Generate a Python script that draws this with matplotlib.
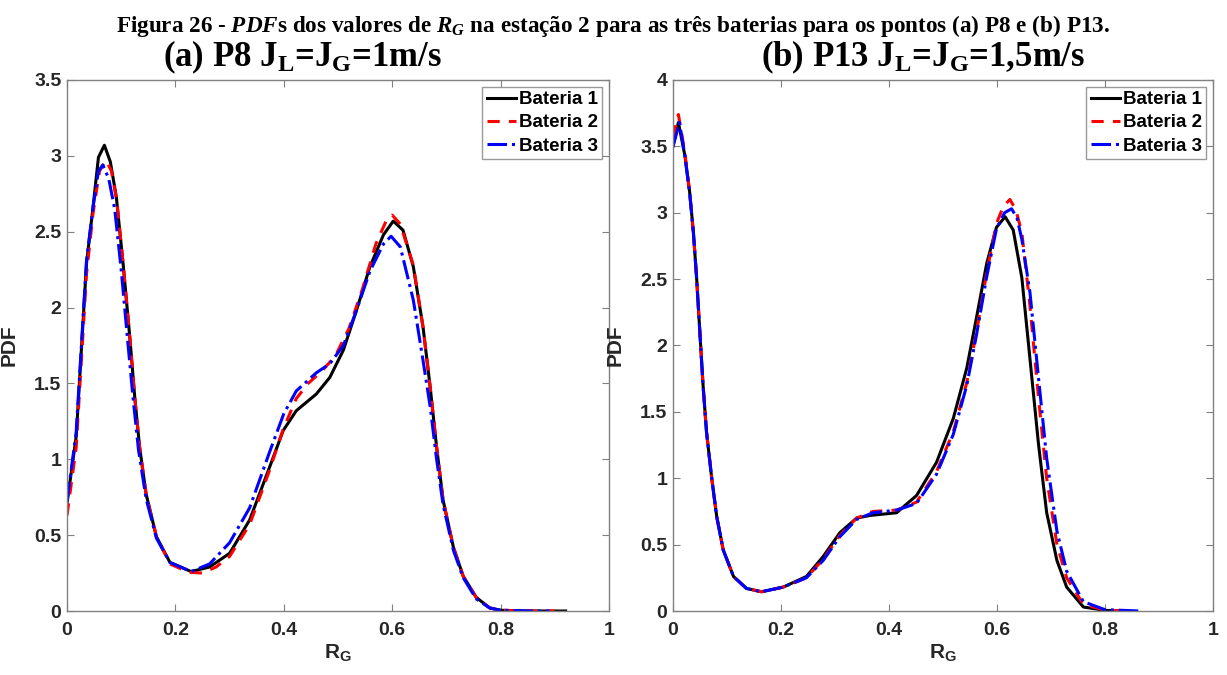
import matplotlib
matplotlib.use("Agg")
import matplotlib.pyplot as plt
from matplotlib.ticker import FormatStrFormatter

plt.rcParams['font.family'] = ['Liberation Sans', 'DejaVu Sans']
plt.rcParams['mathtext.fontset'] = 'custom'
plt.rcParams['mathtext.rm'] = 'Liberation Serif:bold'
plt.rcParams['mathtext.bf'] = 'Liberation Serif:bold'
plt.rcParams['mathtext.it'] = 'Liberation Serif:italic:bold'

# (a) P8  JL=JG=1m/s
a_x1 = [0.0, 0.017, 0.036, 0.048, 0.058, 0.069, 0.080, 0.091, 0.1035, 0.116, 0.125, 0.134, 0.146,
        0.165, 0.190, 0.229, 0.263, 0.300, 0.337, 0.374, 0.399, 0.423, 0.460, 0.485, 0.510, 0.534,
        0.559, 0.584, 0.602, 0.620, 0.639, 0.657, 0.670, 0.682, 0.694, 0.713, 0.731, 0.755, 0.78,
        0.80, 0.85, 0.92]
a_y1 = [0.71, 1.15, 2.29, 2.66, 2.99, 3.07, 2.96, 2.73, 2.29, 1.80, 1.41, 1.08, 0.77,
        0.49, 0.32, 0.26, 0.29, 0.38, 0.60, 0.95, 1.19, 1.32, 1.43, 1.54, 1.72, 1.98,
        2.27, 2.48, 2.57, 2.51, 2.27, 1.87, 1.48, 1.08, 0.73, 0.42, 0.23, 0.09, 0.02,
        0.005, 0.0, 0.0]
a_x2 = [0.0, 0.017, 0.036, 0.048, 0.060, 0.072, 0.082, 0.092, 0.1035, 0.116, 0.125, 0.134, 0.146,
        0.165, 0.190, 0.225, 0.250, 0.275, 0.300, 0.337, 0.374, 0.399, 0.423, 0.445, 0.470, 0.495,
        0.520, 0.545, 0.570, 0.590, 0.600, 0.615, 0.639, 0.657, 0.670, 0.682, 0.694, 0.713, 0.731,
        0.755, 0.78, 0.80, 0.85, 0.90]
a_y2 = [0.63, 1.08, 2.22, 2.62, 2.90, 2.97, 2.90, 2.70, 2.29, 1.80, 1.41, 1.08, 0.77,
        0.49, 0.31, 0.255, 0.25, 0.29, 0.36, 0.57, 0.93, 1.20, 1.40, 1.50, 1.58, 1.68,
        1.86, 2.12, 2.42, 2.58, 2.61, 2.55, 2.28, 1.87, 1.48, 1.08, 0.73, 0.42, 0.23,
        0.09, 0.02, 0.005, 0.0, 0.0]
a_x3 = [0.0, 0.017, 0.036, 0.048, 0.058, 0.066, 0.077, 0.088, 0.100, 0.112, 0.122, 0.132, 0.146,
        0.165, 0.190, 0.229, 0.263, 0.300, 0.337, 0.374, 0.400, 0.423, 0.460, 0.485, 0.510, 0.534,
        0.559, 0.584, 0.598, 0.615, 0.639, 0.657, 0.670, 0.682, 0.694, 0.713, 0.731, 0.755, 0.78,
        0.80, 0.85, 0.89]
a_y3 = [0.72, 1.18, 2.31, 2.66, 2.90, 2.94, 2.85, 2.65, 2.25, 1.78, 1.40, 1.06, 0.74,
        0.48, 0.32, 0.26, 0.31, 0.45, 0.68, 1.05, 1.30, 1.45, 1.57, 1.63, 1.75, 1.98,
        2.24, 2.42, 2.47, 2.40, 2.05, 1.65, 1.35, 1.00, 0.70, 0.40, 0.22, 0.08, 0.02,
        0.005, 0.0, 0.0]

# (b) P13  JL=JG=1,5m/s
b_x1 = [0.0, 0.010, 0.022, 0.031, 0.038, 0.044, 0.050, 0.056, 0.062, 0.072, 0.081, 0.093, 0.112,
        0.136, 0.164, 0.204, 0.247, 0.278, 0.309, 0.340, 0.365, 0.414, 0.451, 0.488, 0.519,
        0.544, 0.562, 0.581, 0.599, 0.615, 0.630, 0.646, 0.661, 0.677, 0.692, 0.711, 0.729,
        0.760, 0.80, 0.83]
b_y1 = [3.50, 3.68, 3.43, 3.15, 2.84, 2.49, 2.08, 1.68, 1.35, 0.99, 0.71, 0.46, 0.26,
        0.17, 0.145, 0.18, 0.26, 0.41, 0.59, 0.70, 0.72, 0.74, 0.87, 1.12, 1.45,
        1.83, 2.21, 2.62, 2.89, 2.97, 2.87, 2.51, 1.90, 1.25, 0.74, 0.38, 0.18,
        0.03, 0.005, 0.0]
b_x2 = [0.0, 0.010, 0.022, 0.031, 0.038, 0.044, 0.050, 0.056, 0.062, 0.072, 0.081, 0.093, 0.112,
        0.136, 0.164, 0.204, 0.247, 0.278, 0.309, 0.340, 0.370, 0.414, 0.451, 0.488, 0.519,
        0.544, 0.562, 0.581, 0.599, 0.612, 0.624, 0.635, 0.646, 0.661, 0.677, 0.692, 0.711,
        0.729, 0.760, 0.80, 0.85]
b_y2 = [3.57, 3.74, 3.45, 3.15, 2.84, 2.49, 2.08, 1.68, 1.35, 0.99, 0.71, 0.46, 0.26,
        0.17, 0.145, 0.18, 0.25, 0.39, 0.57, 0.70, 0.75, 0.76, 0.82, 1.05, 1.35,
        1.72, 2.10, 2.55, 2.92, 3.05, 3.10, 3.02, 2.85, 2.30, 1.60, 1.00, 0.50,
        0.25, 0.05, 0.006, 0.0]
b_x3 = [0.0, 0.012, 0.022, 0.031, 0.038, 0.044, 0.050, 0.056, 0.062, 0.072, 0.081, 0.093, 0.112,
        0.136, 0.164, 0.204, 0.247, 0.278, 0.309, 0.340, 0.370, 0.414, 0.451, 0.488, 0.519,
        0.544, 0.562, 0.581, 0.599, 0.614, 0.627, 0.637, 0.646, 0.661, 0.677, 0.692, 0.711,
        0.729, 0.760, 0.80, 0.865]
b_y3 = [3.50, 3.68, 3.43, 3.14, 2.84, 2.49, 2.08, 1.68, 1.35, 0.99, 0.71, 0.46, 0.26,
        0.17, 0.145, 0.18, 0.25, 0.38, 0.56, 0.69, 0.74, 0.76, 0.81, 1.03, 1.33,
        1.70, 2.08, 2.52, 2.88, 3.00, 3.03, 2.96, 2.80, 2.40, 1.75, 1.15, 0.60,
        0.30, 0.07, 0.01, 0.0]

labels = ['Bateria 1', 'Bateria 2', 'Bateria 3']
colors = ['black', 'red', 'blue']
styles = ['-', (0, (4, 3)), '-.']

titles = [r'(a) P8 J$_\mathregular{L}$=J$_\mathregular{G}$=1m/s',
          r'(b) P13 J$_\mathregular{L}$=J$_\mathregular{G}$=1,5m/s']
title_x = [0.434, 0.464]
suptitle = (r'Figura 26 - $\mathit{PDF}$s dos valores de $\mathit{R_G}$ na estação 2 '
            'para as três baterias para os pontos (a) P8 e (b) P13.')

fig = plt.figure(figsize=(12.27, 6.75), dpi=100)
ax1 = fig.add_axes([0.0546, 0.0948, 0.4417, 0.7867])
ax2 = fig.add_axes([0.5485, 0.0948, 0.4401, 0.7867])

data = [[(a_x1, a_y1), (a_x2, a_y2), (a_x3, a_y3)],
        [(b_x1, b_y1), (b_x2, b_y2), (b_x3, b_y3)]]
ymaxs = [3.5, 4]

for ax, series, title, tx, ymax in zip([ax1, ax2], data, titles, title_x, ymaxs):
    for (x, y), c, ls, lab in zip(series, colors, styles, labels):
        ax.plot(x, y, color=c, linestyle=ls, linewidth=2.2, label=lab)
    ax.set_xlim(0, 1)
    ax.set_ylim(0, ymax)
    ax.set_xticks([0, 0.2, 0.4, 0.6, 0.8, 1])
    ax.set_yticks([i * 0.5 for i in range(int(ymax * 2) + 1)])
    ax.xaxis.set_major_formatter(FormatStrFormatter('%g'))
    ax.yaxis.set_major_formatter(FormatStrFormatter('%g'))
    ax.tick_params(direction='in', top=True, right=True, length=5, color='#808080',
                   labelsize=14)
    ax.tick_params(axis='x', pad=8)
    ax.tick_params(axis='y', pad=4)
    for lbl in ax.get_xticklabels() + ax.get_yticklabels():
        lbl.set_fontweight('bold')
        lbl.set_color('#262626')
    for sp in ax.spines.values():
        sp.set_color('#808080')
        sp.set_linewidth(1.0)
    ax.set_xlabel(r'R$_\mathregular{G}$', fontsize=15, fontweight='bold', color='#262626',
                  labelpad=2)
    ax.set_ylabel('PDF', fontsize=15, fontweight='bold', color='#262626')
    ax.set_title(title, fontsize=25, fontweight='bold', family='Liberation Serif', pad=10, x=tx)
    leg = ax.legend(loc='upper right', fontsize=13.5, handlelength=1.55, handletextpad=0.15,
                    borderpad=0.25, labelspacing=0.32, fancybox=False, borderaxespad=0.35)
    leg.get_frame().set_edgecolor('#808080')
    leg.get_frame().set_linewidth(1.0)
    for t in leg.get_texts():
        t.set_fontweight('bold')

ax1.yaxis.set_label_coords(-0.09, 0.5)
ax2.yaxis.set_label_coords(-0.089, 0.5)

fig.text(0.5, 0.962, suptitle, ha='center', va='center', fontsize=16.7,
         fontweight='bold', family='Liberation Serif')

fig.savefig('out.png', dpi=100)
